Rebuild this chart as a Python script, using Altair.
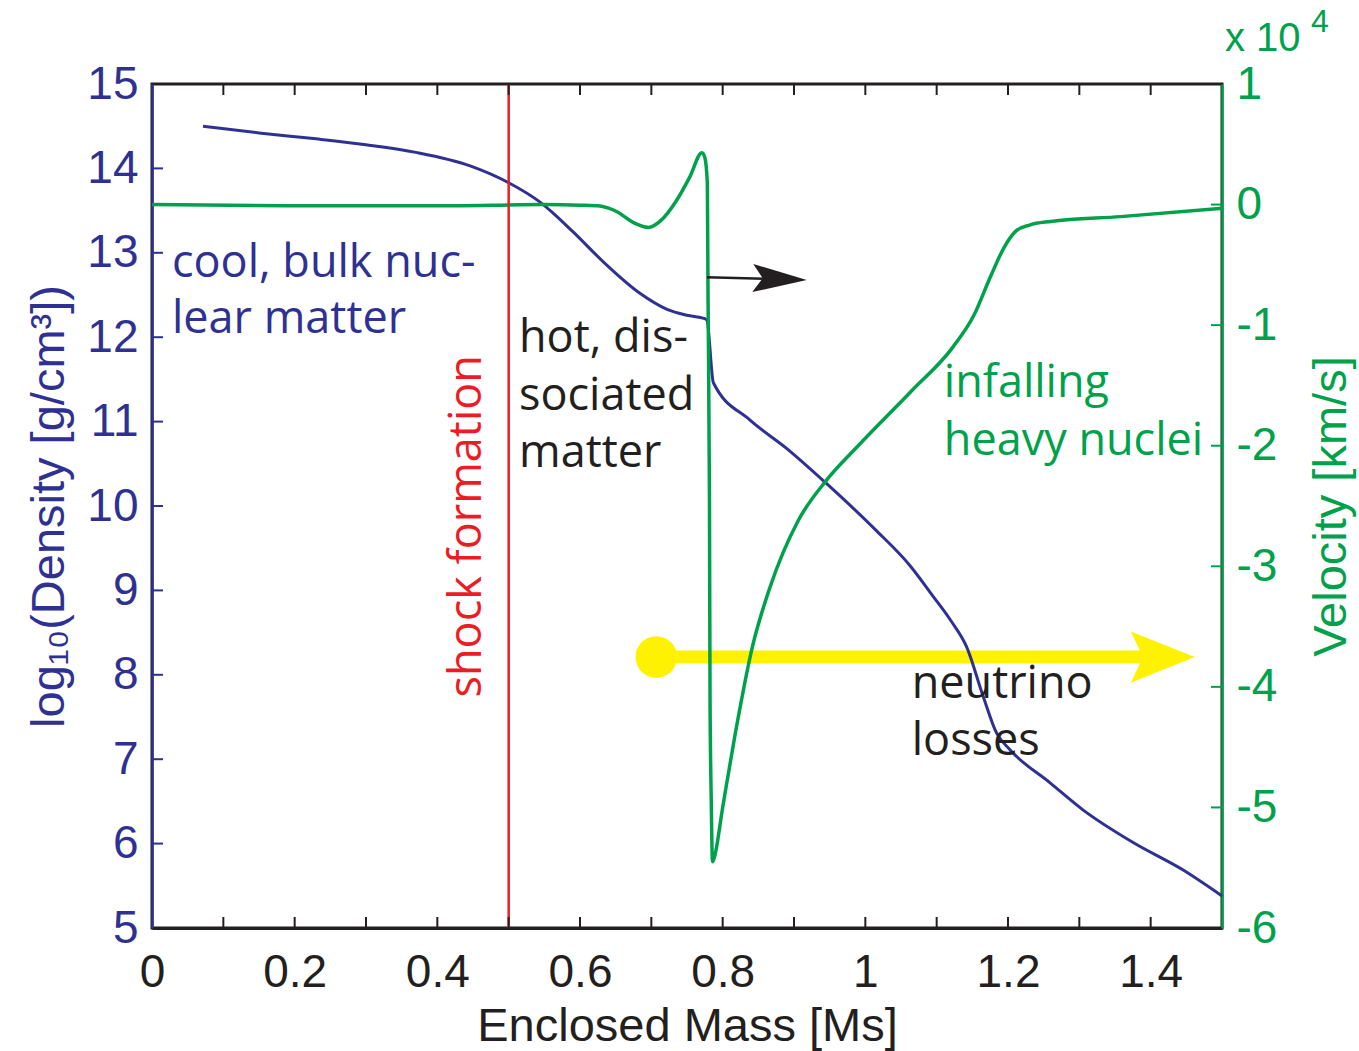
import altair as alt
import pandas as pd

# ---------------- data ----------------
mass_density = [0.0715, 0.15, 0.23, 0.30, 0.37, 0.446, 0.50, 0.544, 0.565, 0.59, 0.638,
                0.684, 0.722, 0.75, 0.775, 0.778, 0.787, 0.838, 0.89, 0.945, 1.014,
                1.063, 1.095, 1.12, 1.142, 1.165, 1.184, 1.203, 1.259, 1.305, 1.376,
                1.445, 1.5]
log_density = [14.50, 14.42, 14.35, 14.28, 14.19, 14.03, 13.83, 13.60, 13.45, 13.25, 12.85,
               12.52, 12.33, 12.26, 12.22, 12.20, 11.46, 11.02, 10.68, 10.27, 9.72,
               9.29, 8.93, 8.64, 8.33, 7.75, 7.31, 7.11, 6.72, 6.40, 6.01,
               5.69, 5.38]

mass_velocity = [0.0, 0.2, 0.4, 0.55, 0.60, 0.628, 0.64, 0.652, 0.675, 0.696, 0.712,
                 0.736, 0.754, 0.771, 0.775, 0.7785, 0.7795, 0.7815, 0.7823, 0.784, 0.7857,
                 0.788, 0.80, 0.817, 0.842, 0.866, 0.906, 0.945, 0.99, 1.064, 1.123,
                 1.152, 1.176, 1.195, 1.211, 1.23, 1.26, 1.358, 1.5]
velocity_1e4 = [0.0, -0.01, -0.01, 0.0, -0.005, -0.012, -0.03, -0.06, -0.15, -0.19, -0.14,
                0.04, 0.23, 0.43, 0.39, 0.18, -0.79, -2.45, -4.11, -4.94, -5.45,
                -5.42, -5.0, -4.41, -3.66, -3.18, -2.62, -2.29, -2.0, -1.55, -1.18,
                -0.92, -0.59, -0.35, -0.22, -0.17, -0.14, -0.10, -0.03]

shock_mass = [0.5]

x_label_values = [0, 0.2, 0.4, 0.6, 0.8, 1, 1.2, 1.4]
x_tick_values = [0.1, 0.2, 0.3, 0.4, 0.5, 0.6, 0.7, 0.8, 0.9, 1.0, 1.1, 1.2, 1.3, 1.4]
density_ticks = [5, 6, 7, 8, 9, 10, 11, 12, 13, 14, 15]
density_inner_ticks = [6, 7, 8, 9, 10, 11, 12, 13, 14]
velocity_ticks = [-6, -5, -4, -3, -2, -1, 0, 1]
velocity_inner_ticks = [-5, -4, -3, -2, -1, 0]

# black arrow (density units)
black_arrow_mass = [0.778, 0.894]
black_arrow_rho = [12.71, 12.685]
black_head_mass = [0.880]
black_head_rho = [12.69]

# yellow neutrino arrow (density units)
yellow_mass = [0.707, 1.389]
yellow_rho = [8.21, 8.21]
yellow_head_mass = [1.417]

# annotations (density units)
blue_text = ["cool, bulk nuc-", "lear matter"]
blue_text_mass = [0.028, 0.028]
blue_text_rho = [12.71, 12.05]
black_text = ["hot, dis-", "sociated", "matter", "neutrino", "losses"]
black_text_mass = [0.5145, 0.5145, 0.5145, 1.065, 1.065]
black_text_rho = [11.825, 11.14, 10.46, 7.725, 7.05]
green_text = ["infalling", "heavy nuclei"]
green_text_mass = [1.110, 1.110]
green_text_rho = [11.29, 10.60]
red_text = ["shock formation"]
red_text_mass = [0.461]
red_text_rho = [9.76]

# ---------------- style ----------------
BLUE = "#2E3192"
GREEN = "#00A14B"
RED = "#ED1C24"
YELLOW = "#FFF200"
BLACK = "#231F20"
AXFONT = "Liberation Sans"
ANFONT = "Open Sans"
W, H = 1070, 844
TL = 11

xs = alt.Scale(domain=[0, 1.5], nice=False, zero=False)
yl = alt.Scale(domain=[5, 15], nice=False, zero=False)
yr = alt.Scale(domain=[-6, 1], nice=False, zero=False)

dens_df = pd.DataFrame({"m": mass_density, "rho": log_density, "o": list(range(len(mass_density)))})
vel_df = pd.DataFrame({"m": mass_velocity, "v": velocity_1e4, "o": list(range(len(mass_velocity)))})

x_axis = alt.Axis(orient="bottom", values=x_label_values, labelExpr="'' + datum.value", ticks=False,
                  tickSize=0, domainColor=BLACK, domainWidth=3, labelColor=BLACK, labelFont=AXFONT,
                  labelFontSize=46, labelPadding=22, labelFlush=False, labelOverlap=False,
                  labelBound=False, grid=False, title="Enclosed Mass [Ms]", titleFont=AXFONT,
                  titleFontSize=47, titleFontWeight="normal", titleColor=BLACK, titlePadding=8)


def X(field="m"):
    # every layer carries the same x axis so that the merged shared axis stays enabled
    return alt.X(f"{field}:Q", scale=xs, axis=x_axis)


left_axis = alt.Axis(orient="left", values=density_ticks, labelExpr="'' + datum.value", ticks=False,
                     tickSize=0, domainColor=BLUE, domainWidth=2.5, labelColor=BLUE, labelFont=AXFONT,
                     labelFontSize=46, labelPadding=14, labelOverlap=False, labelBound=False,
                     labelFlush=False, grid=False,
                     title="log\u2081\u2080(Density [g/cm\u00b3])", titleFont=AXFONT, titleFontSize=47,
                     titleFontWeight="normal", titleColor=BLUE, titlePadding=13)

right_axis = alt.Axis(orient="right", values=velocity_ticks, labelExpr="'' + datum.value", ticks=False,
                      tickSize=0, domainColor=GREEN, domainWidth=2.5, labelColor=GREEN, labelFont=AXFONT,
                      labelFontSize=46, labelPadding=14, labelOverlap=False, labelBound=False,
                      labelFlush=False, grid=False,
                      title="Velocity [km/s]", titleFont=AXFONT, titleFontSize=47, titleAngle=270,
                      titleBaseline="top", titleFontWeight="normal", titleColor=GREEN, titlePadding=32)

# yellow arrow
yellow_line = alt.Chart(pd.DataFrame({"m": yellow_mass, "rho": yellow_rho})).mark_line(
    color=YELLOW, strokeWidth=13, strokeCap="butt").encode(
    x=X(), y=alt.Y("rho:Q", scale=yl, axis=None))
yellow_dot = alt.Chart(pd.DataFrame({"m": yellow_mass[:1], "rho": yellow_rho[:1]})).mark_point(
    shape="circle", filled=True, color=YELLOW, opacity=1, size=1735).encode(
    x=X(), y=alt.Y("rho:Q", scale=yl, axis=None))
yellow_head = alt.Chart(pd.DataFrame({"m": yellow_head_mass, "rho": yellow_rho[:1]})).mark_point(
    shape="M 1 0 L -1 -0.8 L -0.62 0 L -1 0.8 Z", filled=True, color=YELLOW, opacity=1,
    size=4096).encode(
    x=X(), y=alt.Y("rho:Q", scale=yl, axis=None))

density_line = alt.Chart(dens_df).mark_line(color=BLUE, strokeWidth=3, interpolate="monotone").encode(
    x=X(),
    y=alt.Y("rho:Q", scale=yl, axis=left_axis),
    order="o:Q")

velocity_line = alt.Chart(vel_df).mark_line(color=GREEN, strokeWidth=3.5, interpolate="monotone").encode(
    x=X(),
    y=alt.Y("v:Q", scale=yr, axis=right_axis),
    order="o:Q")

shock = alt.Chart(pd.DataFrame({"m": shock_mass})).mark_rule(color=RED, strokeWidth=2.5).encode(
    x=X())

black_line = alt.Chart(pd.DataFrame({"m": black_arrow_mass, "rho": black_arrow_rho})).mark_line(
    color=BLACK, strokeWidth=2.5).encode(
    x=X(), y=alt.Y("rho:Q", scale=yl, axis=None))
black_head = alt.Chart(pd.DataFrame({"m": black_head_mass, "rho": black_head_rho})).mark_point(
    shape="M 1 0 L -1 -0.52 L -0.63 0 L -1 0.52 Z", filled=True, color=BLACK, opacity=1,
    size=2916, angle=2).encode(
    x=X(), y=alt.Y("rho:Q", scale=yl, axis=None))


def text_layer(texts, ms, rhos, color, **kw):
    df = pd.DataFrame({"t": texts, "m": ms, "rho": rhos})
    return alt.Chart(df).mark_text(font=ANFONT, fontSize=45, color=color, baseline="alphabetic",
                                   **kw).encode(
        x=X(), y=alt.Y("rho:Q", scale=yl, axis=None), text="t:N")


t_blue = text_layer(blue_text, blue_text_mass, blue_text_rho, BLUE, align="left")
t_black = text_layer(black_text, black_text_mass, black_text_rho, BLACK, align="left")
t_green = text_layer(green_text, green_text_mass, green_text_rho, GREEN, align="left")
t_red = text_layer(red_text, red_text_mass, red_text_rho, RED, align="center", angle=270)

# x 10^4 multiplier on the velocity axis
mult = alt.Chart(pd.DataFrame({"m": [1.5], "v": [1.275], "t": ["x 10"]})).mark_text(
    font=AXFONT, fontSize=40, color=GREEN, align="left", baseline="alphabetic", dx=3).encode(
    x=X(), y=alt.Y("v:Q", scale=yr, axis=None), text="t:N")
mult_exp = alt.Chart(pd.DataFrame({"m": [1.5], "v": [1.43], "t": ["4"]})).mark_text(
    font=AXFONT, fontSize=32, color=GREEN, align="left", baseline="alphabetic", dx=89).encode(
    x=X(), y=alt.Y("v:Q", scale=yr, axis=None), text="t:N")

# inward ticks
xt = pd.DataFrame({"m": x_tick_values})
top_ticks = alt.Chart(xt).mark_rule(color=BLACK, strokeWidth=2).encode(
    x=X(), y=alt.value(0), y2=alt.value(TL))
bottom_ticks = alt.Chart(xt).mark_rule(color=BLACK, strokeWidth=2).encode(
    x=X(), y=alt.value(H - TL), y2=alt.value(H))
left_ticks = alt.Chart(pd.DataFrame({"rho": density_inner_ticks})).mark_rule(
    color=BLUE, strokeWidth=2).encode(
    y=alt.Y("rho:Q", scale=yl, axis=None), x=alt.value(0), x2=alt.value(TL))
right_ticks = alt.Chart(pd.DataFrame({"v": velocity_inner_ticks})).mark_rule(
    color=GREEN, strokeWidth=2).encode(
    y=alt.Y("v:Q", scale=yr, axis=None), x=alt.value(W - TL), x2=alt.value(W))

chart = alt.layer(
    yellow_line, yellow_dot, yellow_head,
    density_line, velocity_line, shock,
    black_line, black_head,
    t_blue, t_black, t_green, t_red, mult, mult_exp,
    top_ticks, bottom_ticks, left_ticks, right_ticks,
).resolve_scale(y="independent").properties(
    width=W, height=H,
    padding={"left": 152, "top": 84, "right": 137, "bottom": 123},
    autosize=alt.AutoSizeParams(type="none"),
    background="white",
).configure_view(stroke=BLACK, strokeWidth=3)

chart.save("out.html", embed_options={"renderer": "svg", "actions": False})
